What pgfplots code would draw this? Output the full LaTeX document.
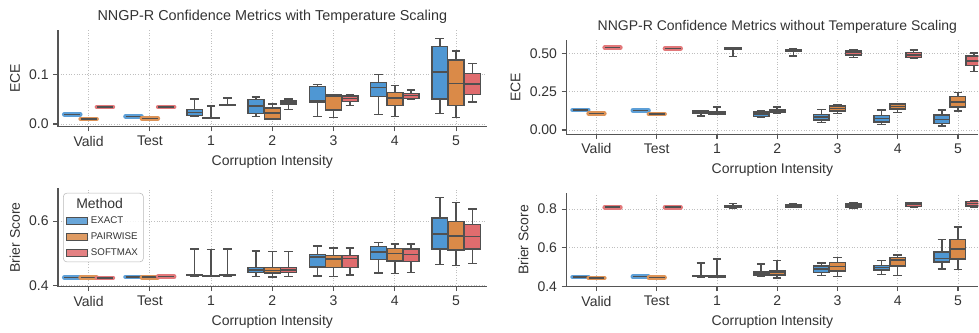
\documentclass[border=0pt]{standalone}
\usepackage{pgfplots}
\pgfplotsset{compat=1.18}
\usepgfplotslibrary{statistics}
\usepackage{fontspec}
\setmainfont{Liberation Sans}
\definecolor{cexact}{HTML}{4F97D3}
\definecolor{cpair}{HTML}{DA8A48}
\definecolor{csoft}{HTML}{E06C6E}
\definecolor{edgec}{HTML}{505050}
\definecolor{spine}{HTML}{555555}
\definecolor{textc}{HTML}{333333}

% box: colour, position, lower whisker, Q1, median, Q3, upper whisker
\newcommand{\bxp}[7]{\addplot[forget plot, draw=edgec, line width=1.1pt,
  boxplot prepared={draw position=#2, lower whisker=#3, lower quartile=#4,
  median=#5, upper quartile=#6, upper whisker=#7},
  boxplot/every box/.style={draw=edgec, fill=#1},
  boxplot/every whisker/.style={draw=edgec},
  boxplot/every median/.style={draw=edgec}] coordinates {};}
% flat (single-valued) box: colour, position, value
\newcommand{\glw}[3]{\addplot[forget plot, line width=3.5pt, line join=round,
  boxplot prepared={draw position=#2, lower whisker=#3, lower quartile=#3,
  median=#3, upper quartile=#3, upper whisker=#3},
  boxplot/every box/.style={draw=#1!92!white},
  boxplot/every whisker/.style={draw=none},
  boxplot/every median/.style={draw=edgec, line width=1.1pt}] coordinates {};}

\pgfplotsset{
  panel/.style={
    scale only axis,
    anchor=south west,
    xmin=-0.5, xmax=6.5,
    xtick={0,1,2,3,4,5,6},
    xticklabels={Valid,Test,1,2,3,4,5},
    axis x line*=bottom, axis y line*=left,
    tick align=outside,
    axis line style={draw=spine, line width=0.9pt},
    every tick/.style={draw=spine, line width=0.9pt},
    major tick length=3.5pt,
    grid=major,
    grid style={draw=gray!50, dash pattern=on 0.6pt off 1.4pt, line width=0.6pt},
    xlabel={Corruption Intensity},
    font=\fontsize{10.5}{12}\selectfont,
    tick label style={text=textc, font=\fontsize{10.5}{12}\selectfont},
    label style={text=textc, font=\fontsize{10.5}{12}\selectfont},
    title style={text=textc, font=\fontsize{10.5}{12}\selectfont, yshift=-4.5pt},
    /pgf/number format/assume math mode=true,
    scaled y ticks=false,
    boxplot/draw direction=y,
    boxplot/box extend=0.26,
    boxplot/whisker extend=0.14,
  }
}

\begin{document}
\begin{tikzpicture}
\path (0,0) rectangle (734.25pt,245.25pt);

% ---------------- top left: ECE with temperature scaling
\begin{axis}[panel, at={(43.5pt,150.2pt)}, width=321.75pt, height=72.5pt,
  ymin=-0.0055, ymax=0.1907, ytick={0,0.1},
  yticklabel style={/pgf/number format/.cd, fixed, fixed zerofill, precision=1},
  ylabel={ECE},
  title style={font=\fontsize{10.8}{12}\selectfont},
  title={NNGP-R Confidence Metrics with Temperature Scaling}]
\glw{cexact}{-0.2667}{0.0196}
\glw{cpair}{0}{0.010}
\glw{csoft}{0.2667}{0.0345}
\glw{cexact}{0.7333}{0.0155}
\glw{cpair}{1}{0.0115}
\glw{csoft}{1.2667}{0.0345}
\bxp{cexact}{1.7333}{0.0156}{0.017}{0.023}{0.029}{0.0507}
\bxp{cpair}{2}{0.0115}{0.0115}{0.012}{0.013}{0.0365}
\bxp{csoft}{2.2667}{0.037}{0.037}{0.039}{0.040}{0.053}
\bxp{cexact}{2.7333}{0.015}{0.0216}{0.0365}{0.050}{0.055}
\bxp{cpair}{3}{0.0095}{0.0105}{0.022}{0.0325}{0.041}
\bxp{csoft}{3.2667}{0.0297}{0.039}{0.0426}{0.0466}{0.0507}
\bxp{cexact}{3.7333}{0.0149}{0.0446}{0.047}{0.0757}{0.080}
\bxp{cpair}{4}{0.0128}{0.028}{0.0555}{0.0585}{0.059}
\bxp{csoft}{4.2667}{0.037}{0.046}{0.0513}{0.0568}{0.059}
\bxp{cexact}{4.7333}{0.0197}{0.0555}{0.0737}{0.0845}{0.100}
\bxp{cpair}{5}{0.0149}{0.038}{0.053}{0.064}{0.078}
\bxp{csoft}{5.2667}{0.050}{0.052}{0.0574}{0.0615}{0.069}
\bxp{cexact}{5.7333}{0.0217}{0.0507}{0.1055}{0.157}{0.174}
\bxp{cpair}{6}{0.0128}{0.037}{0.0825}{0.130}{0.148}
\bxp{csoft}{6.2667}{0.045}{0.060}{0.081}{0.103}{0.123}
\end{axis}

% ---------------- bottom left: Brier with temperature scaling
\begin{axis}[panel, at={(43.5pt,30.2pt)}, width=321.75pt, height=73.8pt,
  ymin=0.397, ymax=0.702, ytick={0.4,0.6},
  yticklabel style={/pgf/number format/.cd, fixed, fixed zerofill, precision=1},
  ylabel={Brier Score},
  legend style={at={(0.012,0.952)}, anchor=north west, draw=gray!55,
    rounded corners=2.5pt, fill=white, fill opacity=0.85, text opacity=1,
    text=textc, font=\fontsize{7.3}{8.5}\selectfont, row sep=1.2pt,
    inner xsep=2pt, inner ysep=1.5pt},
  legend cell align=left]
\addlegendimage{empty legend}
\addlegendentry{\hspace*{-11pt}\fontsize{10.5}{12}\selectfont Method}
\addlegendimage{legend image code/.code={\draw[sharp corners, fill=cexact, draw=edgec, line width=0.7pt] (0pt,-2.6pt) rectangle (16pt,2.6pt);}}
\addlegendentry{EXACT}
\addlegendimage{legend image code/.code={\draw[sharp corners, fill=cpair, draw=edgec, line width=0.7pt] (0pt,-2.6pt) rectangle (16pt,2.6pt);}}
\addlegendentry{PAIRWISE}
\addlegendimage{legend image code/.code={\draw[sharp corners, fill=csoft, draw=edgec, line width=0.7pt] (0pt,-2.6pt) rectangle (16pt,2.6pt);}}
\addlegendentry{SOFTMAX}
\glw{cexact}{-0.2667}{0.425}
\glw{cpair}{0}{0.4245}
\glw{csoft}{0.2667}{0.424}
\glw{cexact}{0.7333}{0.427}
\glw{cpair}{1}{0.426}
\glw{csoft}{1.2667}{0.428}
\bxp{cexact}{1.7333}{0.430}{0.431}{0.433}{0.434}{0.514}
\bxp{cpair}{2}{0.428}{0.429}{0.431}{0.432}{0.512}
\bxp{csoft}{2.2667}{0.430}{0.431}{0.432}{0.434}{0.513}
\bxp{cexact}{2.7333}{0.428}{0.440}{0.449}{0.457}{0.508}
\bxp{cpair}{3}{0.426}{0.439}{0.447}{0.456}{0.505}
\bxp{csoft}{3.2667}{0.429}{0.440}{0.449}{0.457}{0.505}
\bxp{cexact}{3.7333}{0.430}{0.458}{0.489}{0.496}{0.523}
\bxp{cpair}{4}{0.429}{0.456}{0.4825}{0.494}{0.5165}
\bxp{csoft}{4.2667}{0.433}{0.456}{0.4835}{0.494}{0.5165}
\bxp{cexact}{4.7333}{0.439}{0.481}{0.504}{0.521}{0.534}
\bxp{cpair}{5}{0.437}{0.476}{0.500}{0.5155}{0.529}
\bxp{csoft}{5.2667}{0.441}{0.474}{0.497}{0.513}{0.529}
\bxp{cexact}{5.7333}{0.465}{0.513}{0.560}{0.610}{0.674}
\bxp{cpair}{6}{0.463}{0.511}{0.5536}{0.599}{0.658}
\bxp{csoft}{6.2667}{0.468}{0.513}{0.5515}{0.590}{0.637}
\end{axis}

% ---------------- top right: ECE without temperature scaling
\begin{axis}[panel, at={(425pt,144.5pt)}, width=309.2pt, height=70.7pt,
  xmax=6.34,
  ymin=-0.028, ymax=0.587, ytick={0,0.25,0.5},
  yticklabel style={/pgf/number format/.cd, fixed, fixed zerofill, precision=2},
  ylabel={ECE},
  title style={at={(0.512,1)}},
  title={NNGP-R Confidence Metrics without Temperature Scaling}]
\glw{cexact}{-0.2667}{0.130}
\glw{cpair}{0}{0.1065}
\glw{csoft}{0.2667}{0.537}
\glw{cexact}{0.7333}{0.128}
\glw{cpair}{1}{0.104}
\glw{csoft}{1.2667}{0.533}
\bxp{cexact}{1.7333}{0.091}{0.108}{0.117}{0.124}{0.126}
\bxp{cpair}{2}{0.104}{0.105}{0.112}{0.118}{0.149}
\bxp{csoft}{2.2667}{0.478}{0.526}{0.530}{0.534}{0.538}
\bxp{cexact}{2.7333}{0.082}{0.087}{0.103}{0.118}{0.125}
\bxp{cpair}{3}{0.108}{0.113}{0.125}{0.135}{0.150}
\bxp{csoft}{3.2667}{0.483}{0.511}{0.518}{0.524}{0.533}
\bxp{cexact}{3.7333}{0.050}{0.064}{0.084}{0.102}{0.132}
\bxp{cpair}{4}{0.108}{0.125}{0.139}{0.157}{0.166}
\bxp{csoft}{4.2667}{0.474}{0.488}{0.504}{0.517}{0.527}
\bxp{cexact}{4.7333}{0.036}{0.053}{0.075}{0.096}{0.129}
\bxp{cpair}{5}{0.113}{0.136}{0.153}{0.169}{0.173}
\bxp{csoft}{5.2667}{0.466}{0.472}{0.488}{0.505}{0.523}
\bxp{cexact}{5.7333}{0.026}{0.043}{0.070}{0.098}{0.129}
\bxp{cpair}{6}{0.125}{0.150}{0.184}{0.220}{0.245}
\bxp{csoft}{6.2667}{0.380}{0.420}{0.450}{0.482}{0.503}
\end{axis}

% ---------------- bottom right: Brier without temperature scaling
\begin{axis}[panel, at={(425pt,30.2pt)}, width=309.2pt, height=70pt,
  xmax=6.34,
  ymin=0.398, ymax=0.882, ytick={0.4,0.6,0.8},
  yticklabel style={/pgf/number format/.cd, fixed, fixed zerofill, precision=1},
  ylabel={Brier Score}]
\glw{cexact}{-0.2667}{0.4477}
\glw{cpair}{0}{0.4426}
\glw{csoft}{0.2667}{0.810}
\glw{cexact}{0.7333}{0.449}
\glw{cpair}{1}{0.444}
\glw{csoft}{1.2667}{0.810}
\bxp{cexact}{1.7333}{0.448}{0.450}{0.452}{0.454}{0.521}
\bxp{cpair}{2}{0.444}{0.446}{0.449}{0.452}{0.542}
\bxp{csoft}{2.2667}{0.806}{0.808}{0.812}{0.816}{0.829}
\bxp{cexact}{2.7333}{0.449}{0.455}{0.464}{0.473}{0.514}
\bxp{cpair}{3}{0.443}{0.459}{0.470}{0.479}{0.533}
\bxp{csoft}{3.2667}{0.808}{0.811}{0.818}{0.825}{0.828}
\bxp{cexact}{3.7333}{0.456}{0.470}{0.490}{0.505}{0.521}
\bxp{cpair}{4}{0.450}{0.478}{0.503}{0.523}{0.550}
\bxp{csoft}{4.2667}{0.806}{0.812}{0.822}{0.830}{0.832}
\bxp{cexact}{4.7333}{0.461}{0.484}{0.498}{0.508}{0.533}
\bxp{cpair}{5}{0.456}{0.504}{0.537}{0.550}{0.563}
\bxp{csoft}{5.2667}{0.808}{0.814}{0.823}{0.831}{0.835}
\bxp{cexact}{5.7333}{0.489}{0.525}{0.545}{0.577}{0.641}
\bxp{cpair}{6}{0.487}{0.542}{0.593}{0.643}{0.708}
\bxp{csoft}{6.2667}{0.812}{0.815}{0.830}{0.840}{0.845}
\end{axis}
\end{tikzpicture}
\end{document}
